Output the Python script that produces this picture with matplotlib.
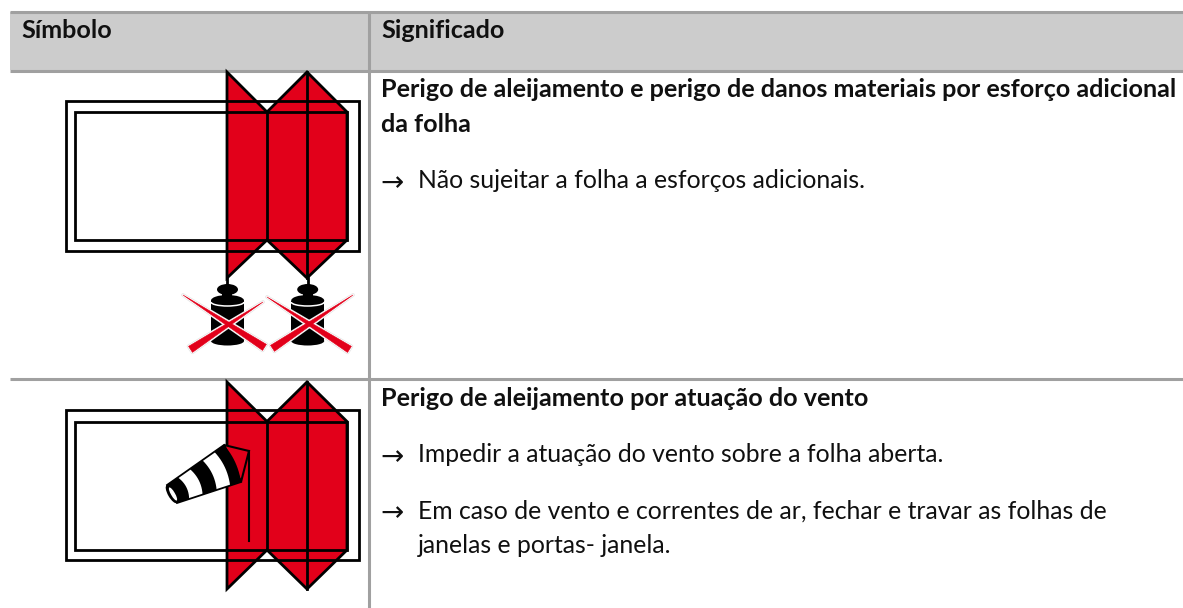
import matplotlib
matplotlib.use("Agg")
import matplotlib.pyplot as plt
from matplotlib.patches import Polygon, Rectangle, Ellipse, Arc
import numpy as np

W, H = 1183, 608
HEADERS = ["Símbolo", "Significado"]
ROW1_TITLE = ["Perigo de aleijamento e perigo de danos materiais por esforço adicional", "da folha"]
ROW1_ITEMS = ["Não sujeitar a folha a esforços adicionais."]
ROW2_TITLE = ["Perigo de aleijamento por atuação do vento"]
ROW2_ITEM_A = "Impedir a atuação do vento sobre a folha aberta."
ROW2_ITEM_B = ["Em caso de vento e correntes de ar, fechar e travar as folhas de", "janelas e portas- janela."]

GREY = "#a0a0a0"
HEAD = "#cccccc"
RED = "#e2001a"

# window symbol geometry, per row: top apex y, outer top, inner top, inner bottom, outer bottom, bottom apex y
ROW1_Y = [72, 100.5, 112, 240, 250.5, 278]
ROW2_Y = [382, 410, 421.5, 550, 560, 589]
WIN_X = [66, 75, 227, 267, 307, 347, 359]
WEIGHT_CX = [227.5, 307.7]
CROSS_STROKES = [((183, 295), (267, 349)), ((263, 302), (188, 351)),
                 ((267, 297), (352, 351)), ((353, 295), (270, 350))]
SOCK = dict(big_top=(224, 445), big_bot=(241, 482), small_top=(167, 485), small_bot=(177, 503))
SOCK_BLACK = [(0.0, 0.19), (0.40, 0.62), (0.83, 1.0)]
POLE = (249, 451, 541)

fig = plt.figure(figsize=(W / 100, H / 100), dpi=100)
ax = fig.add_axes([0, 0, 1, 1])
ax.set_xlim(0, W)
ax.set_ylim(H, 0)
ax.axis("off")

# table
ax.add_patch(Rectangle((10, 12), W - 10, 58, fc=HEAD, ec="none", zorder=0))
for y in (12, 70.5, 379):
    ax.plot([10, W], [y, y], color=GREY, lw=2.2, solid_capstyle="butt", zorder=1)
ax.plot([369.5, 369.5], [12, H], color=GREY, lw=2.2, solid_capstyle="butt", zorder=1)


def window(ys):
    ta, ot, it, ib, ob, ba = ys
    x0, x1, a, b, c, d, x2 = WIN_X
    ax.add_patch(Polygon([(a, ta), (b, it), (c, ta), (d, it), (d, ib), (c, ba), (b, ib), (a, ba)],
                         closed=True, fc=RED, ec="black", lw=2, joinstyle="miter", zorder=2))
    ax.add_patch(Rectangle((x0, ot), x2 - x0, ob - ot, fc="none", ec="black", lw=2, zorder=3))
    ax.add_patch(Rectangle((x1, it), d - x1, ib - it, fc="none", ec="black", lw=2, zorder=3))
    ax.plot([b, b], [it, ib], color="black", lw=2, zorder=3)
    ax.plot([c, c], [ta, ba], color="black", lw=2, zorder=3)


window(ROW1_Y)
window(ROW2_Y)


def weight(cx):
    k = dict(fc="black", ec="none", zorder=4)
    ax.plot([cx, cx], [278, 286], color="black", lw=2, zorder=4)
    ax.add_patch(Ellipse((cx, 289.5), 21, 11, **k))
    ax.add_patch(Rectangle((cx - 5, 292), 10, 6, **k))
    ax.add_patch(Ellipse((cx, 300.5), 33, 11, **k))
    ax.add_patch(Rectangle((cx - 16.5, 301), 33, 40, **k))
    ax.add_patch(Ellipse((cx, 341), 33, 9, **k))
    ax.add_patch(Arc((cx, 302), 33, 8, theta1=0, theta2=180, color="white", lw=1.1, zorder=4.5))


for cx in WEIGHT_CX:
    weight(cx)


def stroke(p, q):
    p, q = np.array(p, float), np.array(q, float)
    d = q - p
    u = d / np.hypot(*d)
    n = np.array([-u[1], u[0]])
    m = p + 0.55 * d
    return [p, m + n * 2.0, q + n * 3.6 - u * 3, q - n * 3.6 - u * 3, m - n * 2.0]


polys = [stroke(p, q) for p, q in CROSS_STROKES]
for pts in polys:
    ax.add_patch(Polygon(pts, closed=True, fc="white", ec="#e4e4e4", lw=2.6, joinstyle="round", zorder=5))
for pts in polys:
    ax.add_patch(Polygon(pts, closed=True, fc="white", ec="white", lw=1.6, joinstyle="round", zorder=5.5))
for pts in polys:
    ax.add_patch(Polygon(pts, closed=True, fc=RED, ec=RED, lw=0.4, joinstyle="round", zorder=6))

# wind sock
bt, bb, st, sb = [np.array(SOCK[k], float) for k in ("big_top", "big_bot", "small_top", "small_bot")]
ax.add_patch(Polygon([bt, (POLE[0], POLE[1]), bb], closed=True, fc=RED, ec="black", lw=1.5, zorder=4))
ax.plot([POLE[0], POLE[0]], [POLE[1], POLE[2]], color="black", lw=1.5, zorder=4)
ax.add_patch(Polygon([bt, bb, sb, st], closed=True, fc="white", ec="black", lw=1.3, zorder=5))


def band(f):
    top, bot = st + (bt - st) * f, sb + (bb - sb) * f
    axis = (bt + bb - st - sb)
    axis = axis / np.hypot(*axis)
    ts = np.linspace(0, 1, 13)
    return [top + (bot - top) * t + axis * 3.0 * 4 * t * (1 - t) for t in ts]


for f0, f1 in SOCK_BLACK:
    ax.add_patch(Polygon(band(f0) + band(f1)[::-1], closed=True, fc="black", ec="none", zorder=6))
ax.add_patch(Ellipse((st + sb) / 2, 8, 21, angle=-30, fc="black", ec="none", zorder=6))
ax.add_patch(Ellipse((st + sb) / 2 + np.array([1, 0]), 4, 15, angle=-30, fc="white", ec="none", zorder=7))

# text
FS_B = 18.1
FS_R = 17.8
FONT = "Lato"


def txt(x, y, s, bold=False):
    ax.text(x, y, s, family=[FONT, "DejaVu Sans"], fontsize=FS_B if bold else FS_R,
            fontweight="bold" if bold else "normal", va="baseline", ha="left", color="#101010", zorder=8)


def arrow(y):
    ax.text(380.5, y + 2.5, "→", family="DejaVu Sans", fontsize=20, va="baseline", ha="left",
            color="#101010", zorder=8)


txt(21, 38, HEADERS[0], True)
txt(381, 38, HEADERS[1], True)
txt(381, 97, ROW1_TITLE[0], True)
txt(381, 132, ROW1_TITLE[1], True)
arrow(188.5)
txt(418, 188.5, ROW1_ITEMS[0])
txt(381, 406, ROW2_TITLE[0], True)
arrow(462.5)
txt(418, 462.5, ROW2_ITEM_A)
arrow(519)
txt(418, 519, ROW2_ITEM_B[0])
txt(418, 553, ROW2_ITEM_B[1])

fig.savefig("out.png", dpi=100)
